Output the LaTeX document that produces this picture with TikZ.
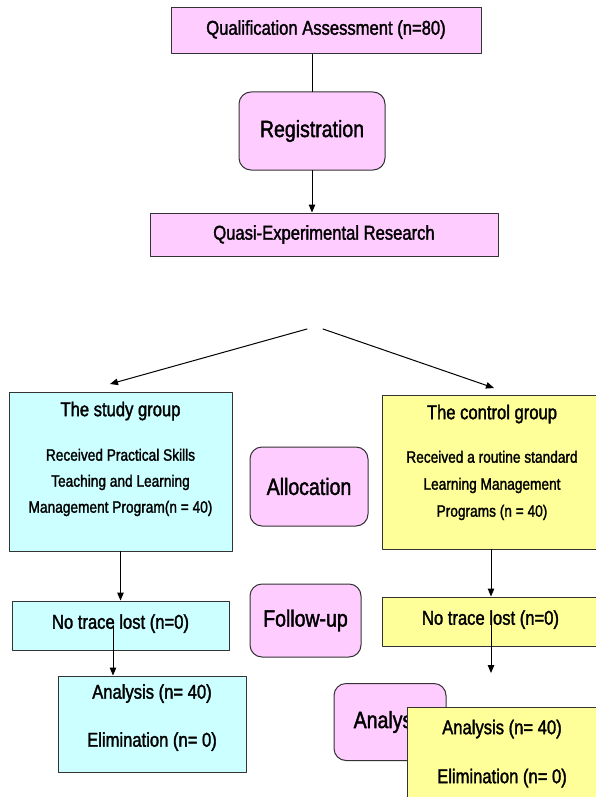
\documentclass[tikz,border=0pt]{standalone}
\usepackage{fontspec}
\setmainfont[FakeStretch=0.83,FakeBold=1.6]{Liberation Sans}
\usetikzlibrary{arrows.meta,positioning}
\definecolor{pinkbox}{HTML}{FFCCFF}
\definecolor{cyanbox}{HTML}{CCFFFF}
\definecolor{yellowbox}{HTML}{FFFF99}
\newcommand{\headfont}{\fontsize{20}{24}\selectfont}
\newcommand{\bodyfont}{\fontsize{16.5}{26}\selectfont}

\begin{document}
\begin{tikzpicture}[x=1pt,y=-1pt,line cap=round,line join=round,
  box/.style={draw=black!80,line width=1pt,inner sep=0pt,font=\headfont},
  stage/.style={box,fill=pinkbox,rounded corners=12pt,font=\fontsize{23.5}{27}\selectfont},
  flow/.style={-{Triangle[length=8pt,width=6.5pt]},line width=1pt}]
\useasboundingbox (0,0) rectangle (595,797);
\fill[white] (0,0) rectangle (595,797);
% enrolment
\node[box,fill=pinkbox,minimum width=310,minimum height=46,text depth=7pt] (qual) at (326,31) {Qualification Assessment (n=80)};
\node[stage,minimum width=146,minimum height=78] (reg) at (312,131) {Registration};
\node[box,fill=pinkbox,minimum width=348,minimum height=43] (quasi) at (324,234.5) {Quasi-Experimental Research};
\draw[line width=1pt] (reg.north) -- (reg.north |- qual.south);
\draw[flow] (reg.south) -- (reg.south |- quasi.north);
% allocation
\coordinate (splitl) at (307,329);
\coordinate (splitr) at (323,329);
\coordinate (studyin) at (110,384);
\coordinate (controlin) at (494,388);
\draw[flow] (splitl) -- (studyin);
\draw[flow] (splitr) -- (controlin);
\node[box,fill=cyanbox,minimum width=223,minimum height=159] (study) at (120.5,471.5) {};
\node[font=\headfont,inner sep=0pt] (studytitle) [below=10pt of study.north] {The study group};
\node[font=\bodyfont,inner sep=0pt,align=center] (studytext) [below=28pt of studytitle.south] {Received Practical Skills\\Teaching and Learning\\Management Program(n = 40)};
\node[box,fill=yellowbox,minimum width=220,minimum height=154] (control) at (492,472) {};
\node[font=\headfont,inner sep=0pt] (controltitle) [below=10pt of control.north] {The control group};
\node[font=\bodyfont,inner sep=0pt,align=center] (controltext) [below=27pt of controltitle.south] {Received a routine standard\\[1pt]Learning Management\\[1pt]Programs (n = 40)};
\node[stage,minimum width=118,minimum height=79] (alloc) at (309,486.5) {Allocation};
% follow-up
\node[box,fill=cyanbox,minimum width=217,minimum height=49,text depth=8pt] (lostl) at (120.5,625.5) {No trace lost (n=0)};
\node[box,fill=yellowbox,minimum width=217,minimum height=49,text depth=8pt] (lostr) at (490.5,621.5) {No trace lost (n=0)};
\node[stage,minimum width=111,minimum height=73] (follow) at (305.5,620.5) {Follow-up};
% analysis
\node[box,fill=cyanbox,minimum width=188,minimum height=96] (anall) at (152,724) {};
\node[font=\headfont,inner sep=0pt,align=center] (analltext) [below=8.5pt of anall.north] {Analysis (n= 40)\\[24pt]Elimination (n= 0)};
\node[stage,minimum width=112,minimum height=77] (anal) at (390,722) {Analysis};
\node[box,fill=yellowbox,minimum width=190,minimum height=120] (analr) at (502,767) {};
\node[font=\headfont,inner sep=0pt,align=center] (analrtext) [below=13pt of analr.north] {Analysis (n= 40)\\[25pt]Elimination (n= 0)};
\coordinate (lostrend) at (491,673);
\draw[flow] (study.south) -- (lostl.north);
\draw[flow] ([xshift=-7.5pt]lostl.center) -- ([xshift=-7.5pt]lostl.center |- anall.north);
\draw[flow] (control.south -| lostrend) -- (lostr.north -| lostrend);
\draw[flow] (lostr.center -| lostrend) -- (lostrend);
\end{tikzpicture}
\end{document}
